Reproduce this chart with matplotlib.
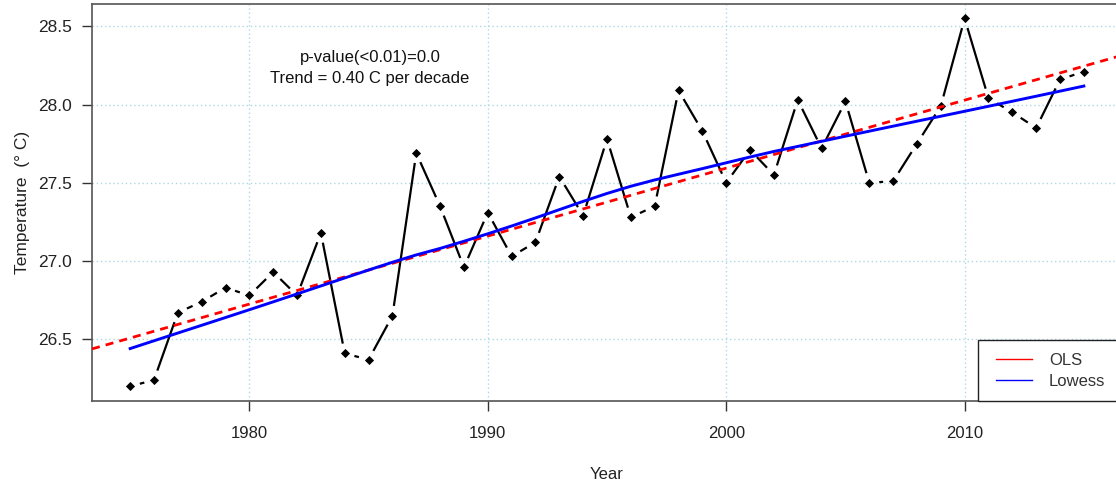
import numpy as np
import matplotlib
matplotlib.use("Agg")
import matplotlib.pyplot as plt
from matplotlib.lines import Line2D
from matplotlib.patches import Rectangle

plt.rcParams['font.family'] = ['Liberation Sans', 'DejaVu Sans']

years = list(range(1975, 2016))
temps = [26.20, 26.24, 26.67, 26.74, 26.83, 26.78, 26.93, 26.78, 27.18, 26.41,
         26.37, 26.65, 27.69, 27.35, 26.96, 27.31, 27.03, 27.12, 27.54, 27.29,
         27.78, 27.28, 27.35, 28.09, 27.83, 27.50, 27.71, 27.55, 28.03, 27.72,
         28.02, 27.50, 27.51, 27.75, 27.99, 28.55, 28.04, 27.95, 27.85, 28.16,
         28.21]
x_ticks = [1980, 1990, 2000, 2010]
y_ticks = [26.5, 27.0, 27.5, 28.0, 28.5]
annot_lines = ["p-value(<0.01)=0.0", "Trend = 0.40 C per decade"]
legend_labels = ["OLS", "Lowess"]

x = np.array(years, dtype=float)
y = np.array(temps)


def lowess(x, y, f=2/3, iters=3):
    n = len(x)
    ns = max(min(int(round(f * n)), n), 2)
    rw = np.ones(n)
    fit = np.zeros(n)
    for it in range(iters + 1):
        for i in range(n):
            d = np.abs(x - x[i])
            h = np.sort(d)[ns - 1]
            u = np.clip(d / max(h, 1e-12), 0, 1)
            w = (1 - u ** 3) ** 3 * rw
            W = w.sum()
            xm = (w * x).sum() / W
            ym = (w * y).sum() / W
            b = (w * (x - xm) * (y - ym)).sum() / max((w * (x - xm) ** 2).sum(), 1e-12)
            fit[i] = ym + b * (x[i] - xm)
        res = y - fit
        s = np.median(np.abs(res))
        if s == 0:
            break
        uu = np.clip(res / (6 * s), -1, 1)
        rw = (1 - uu ** 2) ** 2
    return fit


coef = np.polyfit(x, y, 1)
low = lowess(x, y)

W, H = 1116, 483
AX_L, AX_R, AX_T, AX_B = 92, 1122, 3.7, 401
fig = plt.figure(figsize=(W / 100, H / 100), dpi=100)
ax = fig.add_axes([AX_L / W, (H - AX_B) / H, (AX_R - AX_L) / W, (AX_B - AX_T) / H])

xr = x.max() - x.min()
yr = y.max() - y.min()
ax.set_xlim(x.min() - 0.04 * xr, x.max() + 0.04 * xr)
ax.set_ylim(y.min() - 0.04 * yr, y.max() + 0.04 * yr)

ax.set_xticks(x_ticks)
ax.set_yticks(y_ticks)
ax.set_yticklabels([f"{v:.1f}" for v in y_ticks])
ax.grid(True, color='#ADD8E6', linestyle=(0, (1, 2)), linewidth=1.0)
ax.set_axisbelow(True)

# type="b": segments with gaps around points
gap = 10.0
pts = ax.transData.transform(np.column_stack([x, y]))
inv = ax.transData.inverted()
for i in range(len(x) - 1):
    p0, p1 = pts[i], pts[i + 1]
    d = p1 - p0
    L = np.hypot(*d)
    if L <= 2 * gap:
        continue
    u = d / L
    a = inv.transform(p0 + u * gap)
    b = inv.transform(p1 - u * gap)
    ax.plot([a[0], b[0]], [a[1], b[1]], color='black', lw=1.6, solid_capstyle='butt', zorder=3)
ax.plot(x, y, linestyle='none', marker='D', markersize=3.6, markeredgewidth=0.6,
        color='black', zorder=4)

xl = np.array(ax.get_xlim())
ax.plot(xl, np.polyval(coef, xl), color='red', lw=2.0, linestyle=(0, (2.9, 2.2)), zorder=5,
        scalex=False, scaley=False)
ax.plot(x, low, color='blue', lw=2.1, zorder=6)

ax.text(1985.06, 28.302, annot_lines[0], ha='center', va='center', fontsize=12, color='#111111')
ax.text(1985.06, 28.168, annot_lines[1], ha='center', va='center', fontsize=12, color='#111111')

ax.set_xlabel("Year", fontsize=12, labelpad=18.8, color='#222222')
ax.set_ylabel("Temperature  (\u00b0 C)", fontsize=12.5, labelpad=6, color='#222222')

ax.tick_params(axis='both', labelsize=12, length=7.2, width=1, color='#333333',
               labelcolor='#222222')
ax.tick_params(axis='x', pad=11)
ax.tick_params(axis='y', labelsize=12.5, pad=7)
for s in ax.spines.values():
    s.set_color('#555555')
    s.set_linewidth(1.2)

# legend frame (R-style box flush with the bottom-right of the plot region)
def px2ax(px, py):
    return (px - AX_L) / (AX_R - AX_L), (AX_B - py) / (AX_B - AX_T)

bx0, by1 = px2ax(978, 340)
ax.add_patch(Rectangle((bx0, 0), 1.05 - bx0, by1, transform=ax.transAxes,
                       facecolor='white', edgecolor='#222222', lw=1.0, zorder=7,
                       clip_on=False))
handles = [Line2D([], [], color='red', lw=1), Line2D([], [], color='blue', lw=1)]
leg = ax.legend(handles, legend_labels, loc='upper left', fontsize=12, frameon=False,
                bbox_to_anchor=(996 / W, 1 - 353 / H), bbox_transform=fig.transFigure,
                borderaxespad=0, borderpad=0, handlelength=2.16, handletextpad=1.02,
                labelspacing=0.36)
leg.set_zorder(8)
for t in leg.get_texts():
    t.set_color('#333333')

fig.savefig("out.png", dpi=100)
